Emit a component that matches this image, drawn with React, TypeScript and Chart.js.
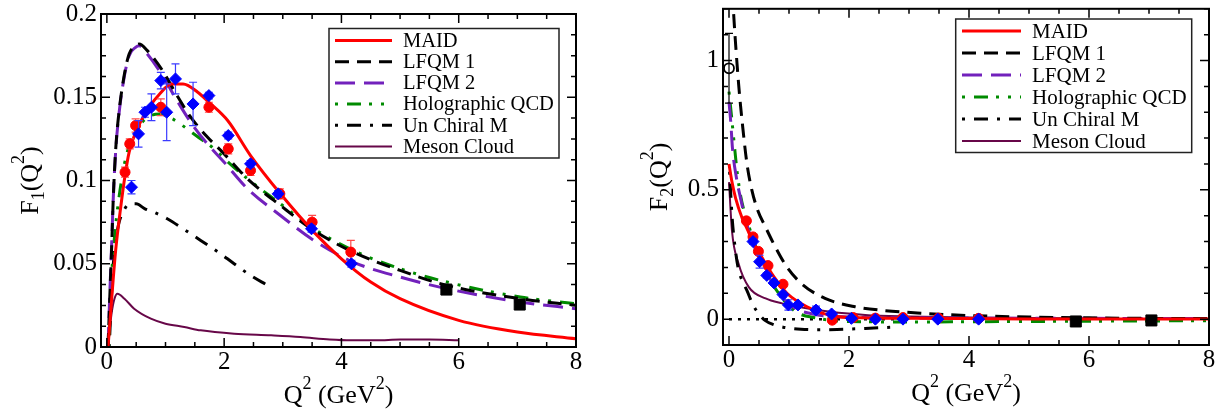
import React, { useEffect, useRef } from "react";
import { Chart, registerables } from "chart.js";
Chart.register(...registerables);

// ---------------- tick values / labels ----------------
const xTickValues = [0, 2, 4, 6, 8];
const xTickLabels = ["0", "2", "4", "6", "8"];
const f1TickValues = [0, 0.05, 0.1, 0.15, 0.2];
const f1TickLabels = ["0", "0.05", "0.1", "0.15", "0.2"];
const f2TickValues = [0, 0.5, 1];
const f2TickLabels = ["0", "0.5", "1"];
const legendLabels = ["MAID", "LFQM 1", "LFQM 2", "Holographic QCD", "Un Chiral M", "Meson Cloud"];

// ---------------- F1 curves ----------------
const f1MaidX = [0.02, 0.08, 0.15, 0.24, 0.31, 0.38, 0.47, 0.6, 0.72, 0.9, 1.1, 1.3, 1.55, 1.74, 2.06, 2.45, 2.96, 3.53, 4.0, 4.5, 5.0, 6.0, 7.0, 8.0];
const f1MaidY = [0, 0.028, 0.058, 0.085, 0.103, 0.117, 0.127, 0.137, 0.144, 0.152, 0.158, 0.158, 0.153, 0.147, 0.136, 0.115, 0.092, 0.069, 0.053, 0.039, 0.029, 0.016, 0.009, 0.005];
const f1Lfqm1X = [0.02, 0.05, 0.08, 0.11, 0.153, 0.21, 0.295, 0.38, 0.49, 0.55, 0.69, 0.95, 1.18, 1.43, 1.69, 2.0, 2.4, 2.96, 3.53, 4.2, 5.0, 5.8, 7.05, 8];
const f1Lfqm1Y = [0, 0.03, 0.058, 0.09, 0.12, 0.142, 0.163, 0.176, 0.181, 0.182, 0.178, 0.166, 0.152, 0.138, 0.127, 0.116, 0.101, 0.085, 0.07, 0.057, 0.046, 0.037, 0.029, 0.025];
const f1Lfqm2X = [0.02, 0.05, 0.08, 0.11, 0.153, 0.21, 0.295, 0.38, 0.49, 0.55, 0.69, 0.95, 1.18, 1.43, 1.69, 2.0, 2.4, 2.96, 3.53, 4.2, 5.0, 5.8, 7.05, 8];
const f1Lfqm2Y = [0, 0.032, 0.06, 0.09, 0.119, 0.141, 0.162, 0.175, 0.18, 0.181, 0.176, 0.163, 0.149, 0.135, 0.123, 0.111, 0.095, 0.079, 0.064, 0.051, 0.042, 0.035, 0.027, 0.023];
const f1HoloX = [0.03, 0.07, 0.125, 0.2, 0.3, 0.4, 0.49, 0.6, 0.75, 0.9, 1.12, 1.29, 1.52, 1.83, 2.1, 2.4, 2.96, 3.53, 4.2, 5.0, 5.8, 7.05, 8];
const f1HoloY = [0, 0.036, 0.064, 0.088, 0.11, 0.123, 0.13, 0.135, 0.139, 0.14, 0.137, 0.133, 0.127, 0.119, 0.11, 0.101, 0.086, 0.071, 0.058, 0.047, 0.039, 0.03, 0.026];
const f1ChiralX = [0.04, 0.1, 0.18, 0.29, 0.4, 0.5, 0.65, 0.8, 1.03, 1.3, 1.6, 1.9, 2.17, 2.45, 2.74];
const f1ChiralY = [0, 0.045, 0.07, 0.082, 0.086, 0.086, 0.083, 0.081, 0.077, 0.071, 0.064, 0.057, 0.05, 0.043, 0.037];
const f1MesonX = [0.02, 0.08, 0.13, 0.18, 0.3, 0.465, 0.75, 1.0, 1.32, 1.6, 2.17, 2.8, 3.3, 3.8, 4.16, 4.6, 5.0, 5.5, 6.0];
const f1MesonY = [0, 0.02, 0.029, 0.032, 0.029, 0.023, 0.017, 0.014, 0.012, 0.01, 0.008, 0.007, 0.006, 0.0045, 0.004, 0.004, 0.0045, 0.0045, 0.004];

// ---------------- F1 data points ----------------
const f1RedX = [0.31, 0.39, 0.49, 0.92, 1.74, 2.07, 2.45, 2.95, 3.5, 4.16];
const f1RedY = [0.105, 0.122, 0.133, 0.144, 0.144, 0.119, 0.106, 0.092, 0.075, 0.057];
const f1RedErr = [0.003, 0.003, 0.004, 0.005, 0.003, 0.003, 0.003, 0.003, 0.004, 0.007];
const f1BlueX = [0.42, 0.54, 0.65, 0.76, 0.92, 1.02, 1.17, 1.47, 1.74, 2.07, 2.45, 2.92, 3.49, 4.17];
const f1BlueY = [0.096, 0.128, 0.141, 0.144, 0.16, 0.141, 0.161, 0.146, 0.151, 0.127, 0.11, 0.092, 0.071, 0.05];
const f1BlueErr = [0.004, 0.008, 0.003, 0.008, 0.005, 0.017, 0.009, 0.013, 0.002, 0.002, 0.002, 0.002, 0.002, 0.002];
const f1SquareX = [5.79, 7.04];
const f1SquareY = [0.0345, 0.0255];

// ---------------- F2 curves ----------------
const f2MaidX = [0, 0.05, 0.11, 0.22, 0.3, 0.4, 0.52, 0.65, 0.75, 0.97, 1.3, 1.74, 2.2, 3, 4, 5, 6, 7, 8];
const f2MaidY = [0.6, 0.53, 0.468, 0.39, 0.35, 0.3, 0.25, 0.2, 0.163, 0.099, 0.048, 0.012, 0.005, 0.003, 0.002, 0.001, 0.001, 0.001, 0.001];
const f2Lfqm1X = [0.04, 0.075, 0.16, 0.23, 0.3, 0.38, 0.48, 0.6, 0.77, 0.97, 1.22, 1.6, 2.1, 2.6, 3.2, 4, 5, 6, 7, 8];
const f2Lfqm1Y = [1.35, 1.19, 0.91, 0.74, 0.6, 0.5, 0.42, 0.36, 0.28, 0.2, 0.135, 0.08, 0.048, 0.033, 0.023, 0.014, 0.008, 0.005, 0.003, 0.002];
const f2Lfqm2X = [0, 0.03, 0.058, 0.125, 0.19, 0.27, 0.39, 0.55, 0.77, 1.05, 1.44, 2, 3, 4, 5, 6, 7, 8];
const f2Lfqm2Y = [0.84, 0.76, 0.66, 0.545, 0.47, 0.39, 0.3, 0.214, 0.124, 0.05, 0.018, 0.008, 0.005, 0.004, 0.003, 0.003, 0.002, 0.002];
const f2HoloX = [0, 0.04, 0.087, 0.14, 0.196, 0.25, 0.33, 0.44, 0.61, 0.83, 1.11, 1.44, 2, 3, 4, 5, 6, 7, 8];
const f2HoloY = [0.88, 0.79, 0.678, 0.56, 0.474, 0.42, 0.36, 0.285, 0.185, 0.099, 0.029, 0.005, -0.009, -0.011, -0.01, -0.009, -0.008, -0.007, -0.006];
const f2ChiralX = [0.01, 0.05, 0.1, 0.15, 0.2, 0.3, 0.4, 0.5, 0.6, 0.75, 0.9, 1.2, 1.5, 1.8, 2.27, 2.8];
const f2ChiralY = [0.57, 0.4, 0.28, 0.2, 0.16, 0.11, 0.055, 0.02, -0.005, -0.022, -0.031, -0.039, -0.041, -0.04, -0.036, -0.03];
const f2MesonX = [0, 0.05, 0.16, 0.33, 0.61, 0.885, 1.44, 2.27, 3, 4, 5, 6];
const f2MesonY = [0.53, 0.34, 0.214, 0.124, 0.08, 0.061, 0.036, 0.016, 0.01, 0.006, 0.004, 0.003];
const f2ZeroX = [0, 3];
const f2ZeroY = [0, 0];

// ---------------- F2 data points ----------------
const f2RedX = [0.29, 0.4, 0.49, 0.65, 0.9, 1.72, 2.07, 2.44, 2.9, 3.49, 4.16];
const f2RedY = [0.38, 0.318, 0.262, 0.207, 0.135, -0.004, 0.006, 0.004, 0.006, 0.004, 0.003];
const f2RedErr = [0.01, 0.01, 0.01, 0.01, 0.01, 0.01, 0.005, 0.005, 0.005, 0.005, 0.005];
const f2BlueX = [0.4, 0.51, 0.63, 0.75, 0.9, 0.99, 1.15, 1.45, 1.71, 2.04, 2.44, 2.9, 3.48, 4.16];
const f2BlueY = [0.3, 0.222, 0.169, 0.14, 0.095, 0.055, 0.055, 0.035, 0.02, 0.003, 0, 0, 0, 0];
const f2BlueErr = [0.01, 0.025, 0.01, 0.01, 0.01, 0.02, 0.01, 0.015, 0.01, 0.005, 0.005, 0.005, 0.005, 0.005];
const f2OpenX = [0];
const f2OpenY = [0.97];
const f2OpenErr = [0.135];
const f2SquareX = [5.78, 7.04];
const f2SquareY = [-0.009, -0.005];

// ---------------- styles ----------------
const FONT = "'Liberation Serif', 'Times New Roman', Times, serif";
Chart.defaults.font.family = FONT;
Chart.defaults.font.size = 25;
Chart.defaults.color = "#000";

const curveStyles = [
  { color: "#ff0000", width: 3, dash: [] as number[], off: 0 },
  { color: "#000000", width: 3, dash: [14, 8], off: 0 },
  { color: "#7221bc", width: 3, dash: [20, 9], off: 0 },
  { color: "#008b00", width: 3, dash: [14, 8, 3, 9, 3, 9], off: 34 },
  { color: "#000000", width: 3, dash: [14, 9, 3, 9], off: 23 },
  { color: "#670748", width: 2, dash: [] as number[], off: 0 },
];

function pts(xs: number[], ys: number[]) {
  return xs.map((x, i) => ({ x, y: ys[i] }));
}

function curve(i: number, xs: number[], ys: number[]) {
  const s = curveStyles[i];
  return {
    label: legendLabels[i],
    isCurve: true,
    legendIndex: i,
    data: pts(xs, ys),
    showLine: true,
    borderColor: s.color,
    backgroundColor: s.color,
    borderWidth: s.width,
    borderDash: s.dash,
    borderDashOffset: s.off,
    pointRadius: 0,
    pointHoverRadius: 0,
    cubicInterpolationMode: "monotone",
    fill: false,
  };
}

function markers(label: string, xs: number[], ys: number[], errs: number[] | null, style: string, radius: number, color: string, fillColor: string, errColor: string) {
  return {
    label,
    data: pts(xs, ys),
    showLine: false,
    pointStyle: style,
    pointRadius: radius,
    pointHoverRadius: radius,
    pointBorderWidth: style === "circle" && fillColor === "transparent" ? 1.8 : 1,
    borderColor: color,
    backgroundColor: fillColor,
    pointBackgroundColor: fillColor,
    pointBorderColor: color,
    errorBars: errs,
    errorColor: errColor,
  };
}

function makePlugin(spec: any) {
  const drawRich = (ctx: any, segs: any[], cx: number, base: number, rotated: boolean) => {
    ctx.save();
    let total = 0;
    const widths = segs.map((sg) => {
      ctx.font = `${sg.s}px ${FONT}`;
      const w = ctx.measureText(sg.t).width;
      total += w;
      return w;
    });
    if (rotated) {
      ctx.translate(base, cx);
      ctx.rotate(-Math.PI / 2);
    } else {
      ctx.translate(cx, base);
    }
    ctx.fillStyle = "#000";
    ctx.textBaseline = "alphabetic";
    ctx.textAlign = "left";
    let x = -total / 2;
    segs.forEach((sg, i) => {
      ctx.font = `${sg.s}px ${FONT}`;
      ctx.fillText(sg.t, x, sg.dy);
      x += widths[i];
    });
    ctx.restore();
  };

  return {
    id: "decor" + spec.sub,
    beforeDatasetDraw(chart: any, args: any) {
      const ds = chart.data.datasets[args.index];
      if (!ds.errorBars) return;
      const ctx = chart.ctx;
      const ys = chart.scales.y;
      ctx.save();
      ctx.strokeStyle = ds.errorColor;
      ctx.lineWidth = 1.2;
      args.meta.data.forEach((el: any, i: number) => {
        const d = ds.data[i];
        const e = ds.errorBars[i];
        const t = ys.getPixelForValue(d.y + e);
        const b = ys.getPixelForValue(d.y - e);
        ctx.beginPath();
        ctx.moveTo(el.x, t);
        ctx.lineTo(el.x, b);
        ctx.moveTo(el.x - 4, t);
        ctx.lineTo(el.x + 4, t);
        ctx.moveTo(el.x - 4, b);
        ctx.lineTo(el.x + 4, b);
        ctx.stroke();
      });
      ctx.restore();
    },
    afterDatasetsDraw(chart: any) {
      const ctx = chart.ctx;
      const ca = chart.chartArea;
      const xs = chart.scales.x;
      const ys = chart.scales.y;
      ctx.save();
      ctx.strokeStyle = "#000";
      ctx.lineWidth = 1.5;
      const major = 9;
      const minor = 5;
      for (let k = Math.ceil(xs.min / 0.5 - 1e-9); k * 0.5 <= xs.max + 1e-9; k++) {
        const v = k * 0.5;
        const isMaj = Math.abs(v / 2 - Math.round(v / 2)) < 1e-6;
        const len = isMaj ? major : minor;
        const px = xs.getPixelForValue(v);
        ctx.beginPath();
        ctx.moveTo(px, ca.bottom);
        ctx.lineTo(px, ca.bottom - len);
        ctx.moveTo(px, ca.top);
        ctx.lineTo(px, ca.top + len);
        ctx.stroke();
      }
      for (let k = Math.ceil(ys.min / spec.yMinor - 1e-9); k * spec.yMinor <= ys.max + 1e-9; k++) {
        const v = k * spec.yMinor;
        const r = v / spec.yMajor;
        const isMaj = Math.abs(r - Math.round(r)) < 1e-6;
        const len = isMaj ? major : minor;
        const py = ys.getPixelForValue(v);
        ctx.beginPath();
        ctx.moveTo(ca.left, py);
        ctx.lineTo(ca.left + len, py);
        ctx.moveTo(ca.right, py);
        ctx.lineTo(ca.right - len, py);
        ctx.stroke();
      }
      ctx.lineWidth = 2;
      ctx.strokeRect(ca.left, ca.top, ca.right - ca.left, ca.bottom - ca.top);
      ctx.restore();
    },
    afterDraw(chart: any) {
      const ctx = chart.ctx;
      const ca = chart.chartArea;
      const lg = spec.legend;
      ctx.save();
      ctx.fillStyle = "#fff";
      ctx.fillRect(lg.x, lg.y, lg.w, lg.h);
      ctx.strokeStyle = "#222";
      ctx.lineWidth = 1.5;
      ctx.strokeRect(lg.x, lg.y, lg.w, lg.h);
      const curves = chart.data.datasets.filter((d: any) => d.isCurve && d.legendIndex !== undefined);
      curves.sort((a: any, b: any) => a.legendIndex - b.legendIndex);
      curves.forEach((d: any, i: number) => {
        const y = lg.y + lg.firstRow + i * lg.rowGap;
        const s = curveStyles[d.legendIndex];
        ctx.beginPath();
        ctx.setLineDash(s.dash);
        ctx.lineDashOffset = s.off;
        ctx.strokeStyle = s.color;
        ctx.lineWidth = s.width;
        ctx.moveTo(lg.lineX1, y);
        ctx.lineTo(lg.lineX2, y);
        ctx.stroke();
        ctx.setLineDash([]);
        ctx.fillStyle = "#000";
        ctx.font = `${lg.font}px ${FONT}`;
        ctx.textBaseline = "middle";
        ctx.textAlign = "left";
        ctx.fillText(d.label, lg.textX, y + 1);
      });
      ctx.restore();
      const cx = (ca.left + ca.right) / 2;
      const cy = (ca.top + ca.bottom) / 2;
      drawRich(
        ctx,
        [
          { t: "Q", s: 26, dy: 0 },
          { t: "2", s: 18, dy: -14 },
          { t: " (GeV", s: 26, dy: 0 },
          { t: "2", s: 18, dy: -14 },
          { t: ")", s: 26, dy: 0 },
        ],
        cx,
        spec.xTitleBase,
        false
      );
      drawRich(
        ctx,
        [
          { t: "F", s: 26, dy: 0 },
          { t: spec.sub, s: 18, dy: 6 },
          { t: "(Q", s: 26, dy: 0 },
          { t: "2", s: 18, dy: -14 },
          { t: ")", s: 26, dy: 0 },
        ],
        cy,
        spec.yTitleBase,
        true
      );
    },
  };
}

function makeConfig(spec: any) {
  const tickFont = { family: FONT, size: 25, lineHeight: 1 };
  return {
    type: "scatter",
    data: { datasets: spec.datasets },
    options: {
      responsive: false,
      animation: false,
      events: [],
      font: { family: FONT, size: 25 },
      layout: { padding: { top: spec.padTop, right: spec.padRight, left: 0, bottom: 0 } },
      plugins: { legend: { display: false }, tooltip: { enabled: false } },
      scales: {
        x: {
          type: "linear",
          position: "bottom",
          min: -0.1,
          max: 8,
          grid: { display: false, drawTicks: false },
          border: { display: false },
          afterBuildTicks: (s: any) => {
            s.ticks = xTickValues.map((v) => ({ value: v }));
          },
          afterFit: (s: any) => {
            s.height = spec.xAxisHeight;
            s.paddingLeft = 0;
            s.paddingRight = 0;
          },
          ticks: {
            font: tickFont,
            color: "#000",
            padding: 3,
            maxRotation: 0,
            autoSkip: false,
            callback: (_v: any, i: number) => xTickLabels[i],
          },
        },
        y: {
          type: "linear",
          position: "left",
          min: spec.yMin,
          max: spec.yMax,
          grid: { display: false, drawTicks: false },
          border: { display: false },
          afterBuildTicks: (s: any) => {
            s.ticks = spec.yTickValues.map((v: number) => ({ value: v }));
          },
          afterFit: (s: any) => {
            s.width = spec.yAxisWidth;
            s.paddingTop = 0;
            s.paddingBottom = 0;
          },
          ticks: {
            font: tickFont,
            color: "#000",
            padding: 4,
            autoSkip: false,
            callback: (_v: any, i: number) => spec.yTickLabels[i],
          },
        },
      },
    },
    plugins: [makePlugin(spec)],
  };
}

const leftSpec = {
  sub: "1",
  yMin: 0,
  yMax: 0.2,
  yTickValues: f1TickValues,
  yTickLabels: f1TickLabels,
  yMajor: 0.05,
  yMinor: 0.0125,
  yAxisWidth: 101,
  xAxisHeight: 70,
  padTop: 14,
  padRight: 37,
  xTitleBase: 403,
  yTitleBase: 38,
  legend: { x: 329, y: 28.5, w: 230, h: 129.5, firstRow: 12, rowGap: 21.2, lineX1: 335, lineX2: 392, textX: 403, font: 20.5 },
  datasets: [
    markers("f1Blue", f1BlueX, f1BlueY, f1BlueErr, "rectRot", 6, "#0000ff", "#0000ff", "#3b3bff"),
    markers("f1Red", f1RedX, f1RedY, f1RedErr, "circle", 5, "#ff0000", "#ff0000", "#ff4a4a"),
    markers("f1Square", f1SquareX, f1SquareY, null, "rect", 7.8, "#000000", "#000000", "#000"),
    curve(0, f1MaidX, f1MaidY),
    curve(1, f1Lfqm1X, f1Lfqm1Y),
    curve(2, f1Lfqm2X, f1Lfqm2Y),
    curve(3, f1HoloX, f1HoloY),
    curve(4, f1ChiralX, f1ChiralY),
    curve(5, f1MesonX, f1MesonY),
  ],
};

const zeroLine = {
  label: "zero",
  data: pts(f2ZeroX, f2ZeroY),
  showLine: true,
  borderColor: "#000",
  borderWidth: 2.5,
  borderDash: [3, 6],
  pointRadius: 0,
  fill: false,
};

const rightSpec = {
  sub: "2",
  yMin: -0.1,
  yMax: 1.2,
  yTickValues: f2TickValues,
  yTickLabels: f2TickLabels,
  yMajor: 0.5,
  yMinor: 0.1,
  yAxisWidth: 110,
  xAxisHeight: 72,
  padTop: 4,
  padRight: 17,
  xTitleBase: 401,
  yTitleBase: 54,
  legend: { x: 342.7, y: 19, w: 236, h: 133.5, firstRow: 12, rowGap: 22, lineX1: 349, lineX2: 408, textX: 419, font: 21 },
  datasets: [
    markers("f2Blue", f2BlueX, f2BlueY, f2BlueErr, "rectRot", 6, "#0000ff", "#0000ff", "#3b3bff"),
    markers("f2Red", f2RedX, f2RedY, f2RedErr, "circle", 5, "#ff0000", "#ff0000", "#ff4a4a"),
    markers("f2Open", f2OpenX, f2OpenY, f2OpenErr, "circle", 5, "#000000", "transparent", "#000"),
    markers("f2Square", f2SquareX, f2SquareY, null, "rect", 7.8, "#000000", "#000000", "#000"),
    curve(0, f2MaidX, f2MaidY),
    curve(1, f2Lfqm1X, f2Lfqm1Y),
    curve(2, f2Lfqm2X, f2Lfqm2Y),
    curve(3, f2HoloX, f2HoloY),
    curve(4, f2ChiralX, f2ChiralY),
    curve(5, f2MesonX, f2MesonY),
    zeroLine,
  ],
};

export default function App() {
  const leftRef = useRef<HTMLCanvasElement>(null);
  const rightRef = useRef<HTMLCanvasElement>(null);
  useEffect(() => {
    const c1 = new Chart(leftRef.current as any, makeConfig(leftSpec) as any);
    const c2 = new Chart(rightRef.current as any, makeConfig(rightSpec) as any);
    return () => {
      c1.destroy();
      c2.destroy();
    };
  }, []);
  return (
    <div style={{ position: "absolute", left: 0, top: 0, width: 1226, height: 417, background: "#fff" }}>
      <canvas ref={leftRef} width={613} height={417} style={{ position: "absolute", left: 0, top: 0 }} />
      <canvas ref={rightRef} width={613} height={417} style={{ position: "absolute", left: 613, top: 0 }} />
    </div>
  );
}
